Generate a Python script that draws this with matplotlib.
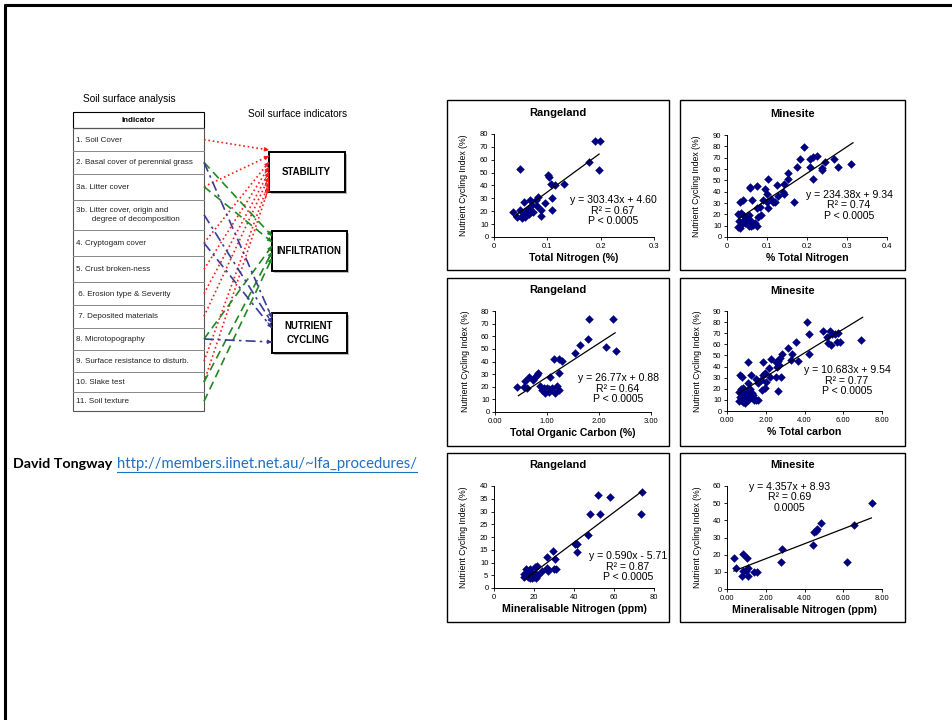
import matplotlib.pyplot as plt
from matplotlib import font_manager
from matplotlib.patches import Rectangle

W, H = 952, 720

# ---- diagram content (left side) ----
indicator_labels = ['1. Soil Cover', '2. Basal cover of perennial grass', '3a. Litter cover',
                    '3b. Litter cover, origin and\n       degree of decomposition', '4. Cryptogam cover',
                    '5. Crust broken-ness', ' 6. Erosion type & Severity', ' 7. Deposited materials',
                    '8. Microtopography', '9. Surface resistance to disturb.', '10. Slake test',
                    '11. Soil texture']
indicator_names = ['STABILITY', 'INFILTRATION', 'NUTRIENT\nCYCLING']
stability_from = [0, 2, 4, 5, 6, 7, 9, 10]
infiltration_from = [1, 2, 8, 10, 11]
nutrient_from = [1, 3, 4, 8]

# ---- scatter data ----
# Rangeland, total nitrogen
rn_tn_x = [0.048, 0.190, 0.198, 0.178, 0.196, 0.102, 0.103, 0.107, 0.115, 0.132, 0.108, 0.108,
           0.095, 0.083, 0.079, 0.067, 0.057, 0.071, 0.080, 0.088, 0.088, 0.035, 0.043, 0.052,
           0.059, 0.066, 0.055, 0.074, 0.063, 0.049, 0.059]
rn_tn_y = [53.2, 74.3, 74.3, 58.0, 52.0, 47.8, 46.8, 41.5, 40.0, 41.5, 30.0, 21.0,
           26.5, 31.0, 29.0, 29.0, 27.5, 25.0, 24.0, 21.3, 16.6, 19.7, 15.6, 15.0,
           19.2, 18.2, 17.0, 19.7, 21.8, 20.8, 15.6]
# Minesite, total nitrogen
mn_tn_x = [0.192, 0.183, 0.175, 0.207, 0.215, 0.225, 0.208, 0.215, 0.245, 0.237, 0.238, 0.268,
           0.278, 0.310, 0.153, 0.152, 0.125, 0.142, 0.140, 0.142, 0.168, 0.103, 0.095, 0.100,
           0.057, 0.057, 0.075, 0.040, 0.033, 0.062, 0.082, 0.075, 0.085, 0.078, 0.103, 0.100,
           0.110, 0.115, 0.120, 0.128, 0.090, 0.027, 0.035, 0.040, 0.030, 0.035, 0.028, 0.033,
           0.045, 0.050, 0.055, 0.060, 0.065, 0.055, 0.070, 0.075, 0.060, 0.045, 0.038]
mn_tn_y = [79.4, 68.8, 61.8, 68.8, 71.0, 71.5, 61.8, 51.0, 66.0, 61.0, 59.0, 68.5,
           61.8, 64.2, 56.5, 51.0, 45.5, 46.5, 39.5, 37.6, 30.8, 51.0, 42.0, 37.8,
           44.5, 43.0, 44.7, 32.4, 31.2, 32.4, 26.5, 25.3, 19.4, 17.6, 25.3, 31.0,
           33.5, 31.0, 30.5, 36.0, 33.0, 20.6, 21.0, 19.4, 14.0, 11.0, 9.0, 8.0,
           12.0, 17.0, 19.0, 14.0, 11.0, 9.5, 12.5, 9.5, 10.0, 15.5, 13.0]
# Rangeland, total organic carbon
rn_tc_x = [1.81, 2.27, 1.79, 1.64, 1.53, 2.13, 2.32, 1.13, 1.24, 1.29, 1.23, 1.06, 0.82, 0.81,
           0.77, 0.73, 0.65, 0.58, 0.42, 0.55, 0.62, 0.87, 0.94, 0.90, 1.03, 1.10, 1.19, 0.97,
           1.04, 1.15, 1.24, 1.00]
rn_tc_y = [73.9, 73.9, 58.0, 53.3, 47.0, 51.7, 48.0, 41.7, 41.7, 40.1, 30.6, 27.4, 31.1, 29.0,
           27.4, 25.3, 27.4, 24.3, 20.0, 20.0, 19.0, 20.6, 19.0, 17.4, 18.0, 19.0, 20.6, 15.3,
           15.8, 14.8, 17.4, 19.0]
# Minesite, total carbon
mn_tc_x = [4.14, 4.24, 4.97, 5.30, 5.41, 5.55, 5.75, 5.15, 5.22, 5.38, 5.66, 5.85, 6.93, 4.24,
           3.55, 3.14, 2.86, 3.38, 2.72, 2.62, 3.69, 3.31, 2.55, 2.69, 2.59, 2.28, 1.86, 2.17,
           1.10, 1.86, 1.97, 2.24, 2.55, 2.79, 2.03, 1.62, 1.97, 2.62, 1.24, 0.66, 0.79, 1.07,
           1.50, 1.75, 0.60, 0.70, 0.80, 0.65, 0.70, 0.60, 0.85, 0.90, 1.00, 1.10, 1.20, 1.30,
           1.20, 1.40, 1.50, 1.60, 1.35, 0.80, 0.95, 1.10, 1.80]
mn_tc_y = [79.8, 69.6, 72.0, 72.0, 69.5, 69.0, 70.0, 66.5, 61.2, 59.4, 61.8, 61.8, 64.2, 51.0,
           61.8, 56.4, 51.0, 51.0, 48.0, 45.0, 45.0, 46.2, 44.5, 41.4, 39.6, 46.8, 44.4, 39.0,
           43.8, 32.4, 34.2, 30.6, 30.6, 30.6, 25.8, 25.2, 20.4, 18.0, 32.4, 32.4, 30.6, 25.2,
           29.0, 28.0, 17.0, 20.0, 21.0, 13.0, 10.0, 9.0, 8.0, 12.0, 14.0, 18.0, 20.0, 16.0,
           12.0, 10.0, 9.5, 10.0, 14.0, 15.0, 7.0, 10.0, 19.0]
# Rangeland, mineralisable nitrogen
rn_mn_x = [74, 73.7, 52, 58, 48, 53, 47, 40.7, 41.3, 41.3, 29.3, 26.3, 30.3, 21.3, 20.3, 26.7,
           27, 24, 31, 30, 15, 15, 16, 17, 18, 18, 19, 19, 20, 20, 21, 21, 18, 16, 17, 22]
rn_mn_y = [37.6, 29.0, 36.6, 35.8, 29.0, 29.0, 20.9, 17.2, 17.2, 14.1, 14.6, 12.0, 11.2, 8.6,
           8.1, 7.8, 6.8, 6.8, 7.3, 7.3, 4.5, 5.5, 7.5, 6.0, 5.0, 4.0, 3.8, 6.0, 4.5, 5.0, 4.0,
           5.5, 7.5, 6.0, 4.5, 5.0]
# Minesite, mineralisable nitrogen
mn_mn_x = [7.48, 6.55, 6.20, 4.86, 4.59, 4.48, 4.66, 4.45, 2.83, 2.79, 0.34, 0.48, 0.83, 1.03,
           0.83, 1.10, 1.41, 1.55, 0.79, 1.10, 0.97]
mn_mn_y = [50.3, 37.4, 16.0, 38.2, 33.9, 33.1, 34.7, 25.7, 23.4, 16.0, 17.9, 12.5, 20.3, 17.9,
           10.5, 12.5, 10.1, 10.1, 7.4, 7.4, 10.5]

panel_titles = ['Rangeland', 'Minesite', 'Rangeland', 'Minesite', 'Rangeland', 'Minesite']
x_labels = ['Total Nitrogen (%)', '% Total Nitrogen', 'Total Organic Carbon (%)',
            '% Total carbon', 'Mineralisable Nitrogen (ppm)', 'Mineralisable Nitrogen (ppm)']
x_ticks = [[0, 0.1, 0.2, 0.3], [0, 0.1, 0.2, 0.3, 0.4], [0, 1, 2, 3],
           [0, 2, 4, 6, 8], [0, 20, 40, 60, 80], [0, 2, 4, 6, 8]]
x_tick_labels = [['0', '0.1', '0.2', '0.3'], ['0', '0.1', '0.2', '0.3', '0.4'],
                 ['0.00', '1.00', '2.00', '3.00'], ['0.00', '2.00', '4.00', '6.00', '8.00'],
                 ['0', '20', '40', '60', '80'], ['0.00', '2.00', '4.00', '6.00', '8.00']]
y_ticks = [list(range(0, 81, 10)), list(range(0, 91, 10)), list(range(0, 81, 10)),
           list(range(0, 91, 10)), list(range(0, 41, 5)), list(range(0, 61, 10))]
slopes = [303.43, 234.38, 26.77, 10.683, 0.590, 4.357]
intercepts = [4.60, 9.34, 0.88, 9.54, -5.71, 8.93]
fit_ranges = [(0.037, 0.197), (0.03, 0.315), (0.45, 2.31), (0.6, 7.0), (15, 74), (0.35, 7.45)]
fit_text = [['y = 303.43x + 4.60', 'R² = 0.67', 'P < 0.0005'],
            ['y = 234.38x + 9.34', 'R² = 0.74', 'P < 0.0005'],
            ['y = 26.77x + 0.88', 'R² = 0.64', 'P < 0.0005'],
            ['y = 10.683x + 9.54', 'R² = 0.77', 'P < 0.0005'],
            ['y = 0.590x - 5.71', 'R² = 0.87', 'P < 0.0005'],
            ['y = 4.357x + 8.93', 'R² = 0.69', '0.0005']]
xs = [rn_tn_x, mn_tn_x, rn_tc_x, mn_tc_x, rn_mn_x, mn_mn_x]
ys = [rn_tn_y, mn_tn_y, rn_tc_y, mn_tc_y, rn_mn_y, mn_mn_y]

# layout in pixels
panel_boxes = [(447, 100, 669, 270), (680, 100, 905, 270), (447, 278, 669, 446),
               (680, 278, 905, 446), (447, 453, 669, 622), (680, 453, 905, 622)]
axes_boxes = [(494, 134, 654, 237), (727, 135, 887, 237), (495, 311, 651, 412),
              (727, 311, 882, 411), (494, 486, 654, 588), (727, 486, 882, 589)]
title_y = [113, 114, 290, 291, 465, 465]
fit_pos = [(613, 200), (849, 195), (618, 378), (847, 370), (628, 556), (790, 487)]

installed = {f.name for f in font_manager.fontManager.ttflist}
ARIAL = 'Liberation Sans'
if 'Liberation Sans Narrow' in installed:
    NARROW, narrow_size = 'Liberation Sans Narrow', 7.4
else:
    NARROW, narrow_size = 'Liberation Sans', 6.3

plt.rcParams['font.family'] = [ARIAL, 'DejaVu Sans']

fig = plt.figure(figsize=(W / 100, H / 100), dpi=100)
bg = fig.add_axes([0, 0, 1, 1])
bg.set_xlim(0, W)
bg.set_ylim(H, 0)
bg.axis('off')

# slide frame (top and left only)
bg.plot([4, W], [5, 5], color='black', lw=2.2, solid_capstyle='butt')
bg.plot([5, 5], [4, H], color='black', lw=2.2, solid_capstyle='butt')

# ---- left diagram ----
bg.text(83, 99, 'Soil surface analysis', fontsize=7.3, va='center', ha='left')
bg.text(248, 114, 'Soil surface indicators', fontsize=7.3, va='center', ha='left')

tl, tr = 73, 204
row_edges = [128.3, 151, 173.7, 199.7, 229.7, 256.3, 282.3, 305, 327.7, 350.3, 372.3, 391.7, 411]
bg.add_patch(Rectangle((tl, 112), tr - tl, 128.3 - 112, fill=False, ec='black', lw=0.8))
bg.text((tl + tr) / 2, 120, 'Indicator', fontsize=5.8, fontweight='bold', ha='center', va='center')
bg.add_patch(Rectangle((tl, 128.3), tr - tl, 411 - 128.3, fill=False, ec='#555555', lw=0.8))
for e in row_edges[1:-1]:
    bg.plot([tl, tr], [e, e], color='#888888', lw=0.7)
row_mid = [(row_edges[i] + row_edges[i + 1]) / 2 for i in range(len(indicator_labels))]
for i, lab in enumerate(indicator_labels):
    bg.text(76, row_mid[i] + 0.5, lab, fontsize=5.8, color='#222222', ha='left', va='center',
            linespacing=1.3)

box_rects = [(269, 152, 345, 192), (272, 231, 347, 271), (272, 313, 347, 353)]
for (x0, y0, x1, y1), name in zip(box_rects, indicator_names):
    bg.add_patch(Rectangle((x0 + 1.5, y0 + 1.5), x1 - x0, y1 - y0, fc='#bbbbbb', ec='none'))
    bg.add_patch(Rectangle((x0, y0), x1 - x0, y1 - y0, fc='white', ec='black', lw=1.4))
    bg.text((x0 + x1) / 2 - 1, (y0 + y1) / 2, name, fontsize=6.9, fontweight='bold',
            ha='center', va='center', linespacing=1.5)


def connect(src_rows, x_end, y_ends, color, ls, lw):
    for r, ye in zip(src_rows, y_ends):
        xs0, ys0 = tr, row_mid[r]
        bg.plot([xs0, x_end], [ys0, ye], color=color, ls=ls, lw=lw)
        dx, dy = x_end - xs0, ye - ys0
        bg.annotate('', xy=(x_end, ye), xytext=(x_end - dx * 0.06, ye - dy * 0.06),
                    arrowprops=dict(arrowstyle='-|>', color=color, lw=0.8, mutation_scale=6,
                                    shrinkA=0, shrinkB=0))


connect(stability_from, 269, [150, 156, 162, 167, 172, 177, 182, 187], '#ff1a1a', ':', 1.2)
connect(infiltration_from, 272, [236, 242, 246, 252, 258], '#1f8a1f', (0, (5, 3)), 1.2)
connect(nutrient_from, 272, [318, 323, 328, 342], '#3a3a9a', (0, (6, 2.5, 1.5, 2.5)), 1.2)

# ---- footer text ----
bg.text(13, 464, 'David Tongway', fontsize=10.3, fontweight='bold', family=['Lato', 'DejaVu Sans'],
        va='center', ha='left')
link = bg.text(117, 464, 'http://members.iinet.net.au/~lfa_procedures/', fontsize=10.7,
               color='#1F6FC5', family=['Lato', 'DejaVu Sans'], va='center', ha='left')
fig.canvas.draw()
bb = link.get_window_extent().transformed(bg.transData.inverted())
bg.plot([bb.x0, bb.x1], [472, 472], color='#1F6FC5', lw=0.8)

# ---- scatter panels ----
for k in range(6):
    px0, py0, px1, py1 = panel_boxes[k]
    bg.add_patch(Rectangle((px0, py0), px1 - px0, py1 - py0, fill=False, ec='black', lw=1.0))
    bg.text((px0 + px1) / 2, title_y[k], panel_titles[k], fontsize=8, fontweight='bold',
            ha='center', va='center')

    ax0, ay0, ax1, ay1 = axes_boxes[k]
    ax = fig.add_axes([ax0 / W, 1 - ay1 / H, (ax1 - ax0) / W, (ay1 - ay0) / H])
    ax.patch.set_alpha(0)
    ax.scatter(xs[k], ys[k], marker='D', s=19, color='#000080', linewidths=0, zorder=3)
    lo, hi = fit_ranges[k]
    ax.plot([lo, hi], [slopes[k] * lo + intercepts[k], slopes[k] * hi + intercepts[k]],
            color='black', lw=0.9, zorder=4)
    ax.set_xlim(x_ticks[k][0], x_ticks[k][-1])
    ax.set_ylim(y_ticks[k][0], y_ticks[k][-1])
    ax.set_xticks(x_ticks[k])
    ax.set_xticklabels(x_tick_labels[k])
    ax.set_yticks(y_ticks[k])
    for side in ['top', 'right']:
        ax.spines[side].set_visible(False)
    for side in ['left', 'bottom']:
        ax.spines[side].set_linewidth(0.7)
    ax.tick_params(direction='out', length=2.5, width=0.6, labelsize=5.5, pad=1.5)
    ax.set_xlabel(x_labels[k], fontsize=7.6, fontweight='bold')
    ax.xaxis.set_label_coords(0.5, -0.16)
    ax.set_ylabel('Nutrient Cycling Index (%)', fontsize=narrow_size, family=NARROW)
    ax.yaxis.set_label_coords(-0.16, 0.5)

    cx, cy = fit_pos[k]
    for j, line in enumerate(fit_text[k]):
        bg.text(cx, cy + j * 10.5, line, fontsize=7.6, ha='center', va='center')

fig.savefig('out.png', dpi=100)
